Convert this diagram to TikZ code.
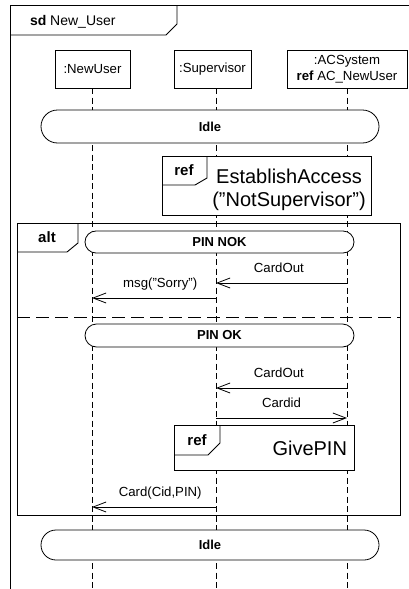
\documentclass[tikz,border=0pt]{standalone}
\usepackage{fontspec}
\setmainfont{Liberation Sans}
\usetikzlibrary{arrows.meta}
\begin{document}
\begin{tikzpicture}[x=1pt,y=1pt,
  every node/.style={inner sep=0pt, outer sep=0pt},
  headbox/.style={draw, fill=white, line width=0.8pt, minimum height=38pt, align=center, font=\fontsize{13.2}{15.5}\selectfont},
  statebox/.style={draw, fill=white, line width=0.8pt, rounded corners=#1, font=\bfseries\fontsize{13}{15}\selectfont},
  lifeline/.style={line width=0.7pt, dash pattern=on 6pt off 3.5pt},
  framebox/.style={draw, line width=0.9pt},
  refbox/.style={draw, fill=white, line width=0.9pt},
  msgarrow/.style={line width=0.8pt, -{Straight Barb[length=13pt,width=10pt,line width=0.8pt]}},
  msglabel/.style={font=\fontsize{13.2}{15}\selectfont, anchor=base, yshift=11pt},
  taglabel/.style={font=\bfseries\fontsize{15}{17}\selectfont},
]
\clip (0,0) rectangle (409,-589);

% outer sd frame
\draw[framebox] (10,-600) -- (10,-5) -- (420,-5);
\draw[framebox] (10,-35) -- (166,-35) -- (177,-24) -- (177,-5);
\node[anchor=base west, font=\fontsize{14}{16}\selectfont] (sdlabel) at (30,-25) {\textbf{sd} New\_User};

% lifeline heads
\node[headbox, minimum width=75pt] (nu) at (92.5,-69) {:NewUser};
\node[headbox, minimum width=77pt] (sv) at (212.5,-69) {:Supervisor};
\node[headbox, minimum width=120pt] (ac) at (347,-69) {:ACSystem\\\textbf{ref} AC\_NewUser};

% lifelines
\coordinate (nuEnd) at (92,-589);
\coordinate (svEnd) at (216,-589);
\coordinate (acEnd) at (347,-589);
\draw[lifeline] (nu.south -| nuEnd) -- (nuEnd);
\draw[lifeline] (sv.south -| svEnd) -- (svEnd);
\draw[lifeline] (ac.south -| acEnd) -- (acEnd);

% Idle state
\node[statebox=16.5pt, minimum width=338pt, minimum height=33pt] (idle1) at (210,-126.5) {Idle};

% ref EstablishAccess
\node[refbox, minimum width=209pt, minimum height=59pt] (refEA) at (266.5,-185.5) {};
\draw[line width=0.9pt] (162,-185) -- (195,-185) -- (207,-178) -- (207,-156);
\node[taglabel] (refEAtag) at (184,-170) {ref};
\node[align=center, font=\fontsize{20}{23}\selectfont] (refEAtext) at (289,-190) {EstablishAccess\\("NotSupervisor")};

% alt fragment
\node[framebox, minimum width=383pt, minimum height=292pt] (alt) at (208.5,-369) {};
\draw[line width=0.9pt] (17,-252) -- (67,-252) -- (78,-243) -- (78,-223);
\node[taglabel] (alttag) at (47,-237) {alt};
\draw[line width=0.9pt, dash pattern=on 13pt off 6pt] (alt.west |- 0,-317) -- (alt.east |- 0,-317);

% guards
\node[statebox=11pt, minimum width=269pt, minimum height=22pt] (pinnok) at (219.5,-242) {PIN NOK};
\node[statebox=11.5pt, minimum width=269pt, minimum height=23pt] (pinok) at (219.5,-335.5) {PIN OK};

% messages, first operand
\coordinate (ac1) at (347,-283);
\coordinate (sv1) at (216,-283);
\draw[msgarrow] (ac1) -- (sv1) node[msglabel, pos=0.52] {CardOut};
\coordinate (sv2) at (216,-298);
\coordinate (nu2) at (92,-298);
\draw[msgarrow] (sv2) -- (nu2) node[msglabel, pos=0.45] {msg("Sorry")};

% messages, second operand
\coordinate (ac3) at (347,-388);
\coordinate (sv3) at (216,-388);
\draw[msgarrow] (ac3) -- (sv3) node[msglabel, pos=0.52] {CardOut};
\coordinate (sv4) at (216,-418);
\coordinate (ac4) at (347,-418);
\draw[msgarrow] (sv4) -- (ac4) node[msglabel, pos=0.5] {Cardid};

% ref GivePIN
\node[refbox, minimum width=180pt, minimum height=45pt] (refGP) at (264,-447.5) {};
\draw[line width=0.9pt] (174,-455) -- (208,-455) -- (220,-443) -- (220,-425);
\node[taglabel] (refGPtag) at (197,-440) {ref};
\node[anchor=east, font=\fontsize{20}{23}\selectfont] (refGPtext) at (347,-448) {GivePIN};

\coordinate (sv5) at (216,-507);
\coordinate (nu5) at (92,-507);
\draw[msgarrow] (sv5) -- (nu5) node[msglabel, pos=0.45] {Card(Cid,PIN)};

% final Idle
\node[statebox=15pt, minimum width=338pt, minimum height=30pt] (idle2) at (210,-545) {Idle};
\end{tikzpicture}
\end{document}
